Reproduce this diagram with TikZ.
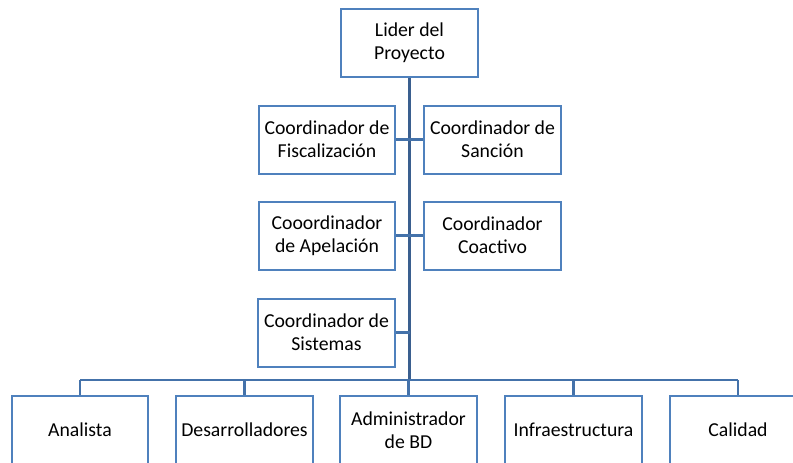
\documentclass[tikz,border=0pt]{standalone}
\usepackage{fontspec}
\setmainfont{Carlito}
\usepackage{xcolor}
\usetikzlibrary{positioning}

\definecolor{boxblue}{RGB}{79,129,189}
\definecolor{lineblue}{RGB}{68,114,170}
\definecolor{trunkblue}{RGB}{58,95,143}

\tikzset{
  box/.style={draw=boxblue, line width=1.5pt, fill=white, minimum width=102.5pt,
    minimum height=51pt, align=center, inner sep=1pt,
    font=\fontsize{14.8}{17.3}\selectfont},
  lowbox/.style={box, minimum height=51pt},
  branch/.style={draw=lineblue, line width=1.6pt},
  trunk/.style={draw=trunkblue, line width=2.2pt}
}

\begin{document}
\begin{tikzpicture}[x=0.75pt, y=-0.75pt]
        \useasboundingbox (0,0) rectangle (793,462);
        \clip (0,0) rectangle (793,462);

        \coordinate (bus) at (409.5,380);

        \draw[trunk] (409.5,77) -- (bus);
        \draw[branch] (327,139.5) -- (492.5,139.5);
        \draw[branch] (327,235.5) -- (492.5,235.5);
        \draw[branch] (326.5,332.5) -- (409.5,332.5);

        \node[box] (lider) at (409.5,43) {Lider del\\Proyecto};
        \node[box] (fisc) at (327,139.5) {Coordinador de\\Fiscalización};
        \node[box] (sanc) at (492.5,139.5) {Coordinador de\\Sanción};
        \node[box] (apel) at (327,235.5) {Cooordinador\\de Apelación};
        \node[box] (coac) at (492.5,235.5) {Coordinador\\Coactivo};
        \node[box] (sist) at (326.5,332.5) {Coordinador de\\Sistemas};

        \node[lowbox] (anal) at (80,430) {Analista};
        \node[lowbox] (desa) at (244.5,430) {Desarrolladores};
        \node[lowbox] (admi) at (408.5,430) {Administrador\\de BD};
        \node[lowbox] (infr) at (573.5,430) {Infraestructura};
        \node[lowbox] (cali) at (738,430) {Calidad};

        \draw[branch] (anal.north |- bus) -- (cali.north |- bus);
        \foreach \n in {anal,desa,admi,infr,cali}
          \draw[branch] (\n.north |- bus) -- (\n.north);

      \end{tikzpicture}
\end{document}
